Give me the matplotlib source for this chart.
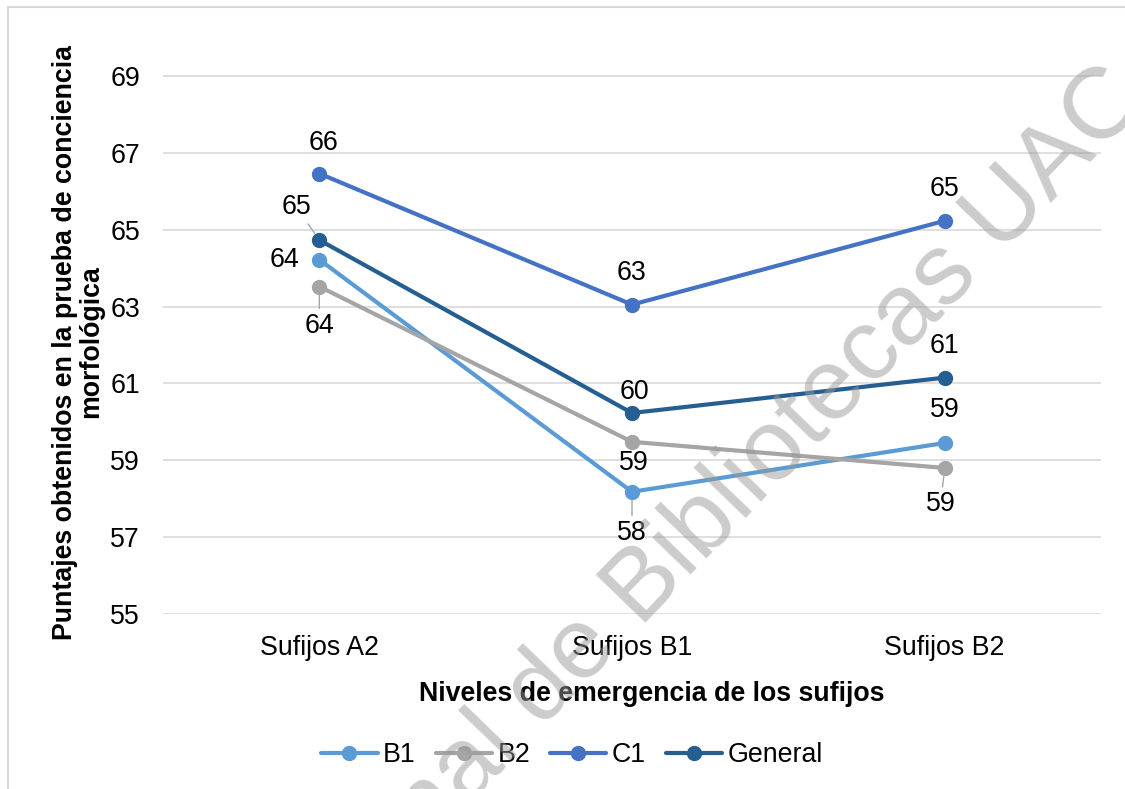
import numpy as np
import matplotlib.pyplot as plt
from matplotlib.patches import Rectangle

plt.rcParams['font.family'] = ['Liberation Sans', 'DejaVu Sans']

categorias = ['Sufijos A2', 'Sufijos B1', 'Sufijos B2']
series = ['B1', 'B2', 'C1', 'General']
valores = {
    'B1': [64.22, 58.18, 59.45],
    'B2': [63.52, 59.48, 58.80],
    'C1': [66.46, 63.05, 65.23],
    'General': [64.73, 60.23, 61.15],
}
colores = {
    'B1': '#5b9bd5',
    'B2': '#a5a5a5',
    'C1': '#4472c4',
    'General': '#255e91',
}
# label offsets in pixels (dx, dy) and whether a leader line is drawn
offsets = {
    'B1': [(-35, 0, False), (0, -41, True), (0, 33, False)],
    'B2': [(0, -39, True), (2, -21, False), (-4, -36, True)],
    'C1': [(4, 31, False), (0, 32, False), (0, 32, False)],
    'General': [(-23, 33, True), (2, 21, False), (0, 32, False)],
}

FS = 19.3
W, H = 1125, 789
fig = plt.figure(figsize=(W / 100, H / 100), dpi=100)
ax = fig.add_axes([163 / W, 1 - 614 / H, (1101 - 163) / W, (614 - 37.5) / H])

x = list(range(len(categorias)))
for s in series:
    ax.plot(x, valores[s], color=colores[s], lw=3, marker='o', ms=10,
            label=s, solid_capstyle='round', zorder=3)
    for i, v in enumerate(valores[s]):
        dx, dy, leader = offsets[s][i]
        kw = {}
        if leader:
            kw['arrowprops'] = dict(arrowstyle='-', color='#a6a6a6', lw=1,
                                    shrinkA=1, shrinkB=6)
        ax.annotate(f'{round(v):d}', (i, v), xytext=(dx * 0.72, dy * 0.72),
                    textcoords='offset points', ha='center', va='center',
                    fontsize=FS, color='black', zorder=4, **kw)

ax.set_xlim(-0.5, 2.5)
ax.set_ylim(55, 70)
ax.set_yticks(range(55, 70, 2))
ax.set_xticks(x)
ax.set_xticklabels(categorias)
ax.tick_params(length=0, labelsize=FS)
ax.tick_params(axis='x', pad=15)
ax.tick_params(axis='y', pad=16.5)
ax.grid(axis='y', color='#d9d9d9', lw=1.2)
ax.set_axisbelow(True)
for sp in ax.spines.values():
    sp.set_visible(False)

fig.text(78 / W, 1 - 342 / H,
         'Puntajes obtenidos en la prueba de conciencia\nmorfológica',
         rotation=90, ha='center', va='center', multialignment='center',
         fontsize=FS, fontweight='bold', linespacing=1.0)
fig.text(652 / W, 1 - 694 / H, 'Niveles de emergencia de los sufijos',
         ha='center', va='center', fontsize=FS, fontweight='bold')

fig.legend(loc='center', bbox_to_anchor=(572 / W, 1 - 755 / H), ncol=4,
           frameon=False, fontsize=FS, handlelength=2.1, columnspacing=0.75,
           handletextpad=0.2, markerscale=1.0)

fig.patches.append(Rectangle((8 / W, -0.1), 1.2, 1.1 - 7 / H,
                             transform=fig.transFigure, fill=False,
                             edgecolor='#d9d9d9', lw=1.5))

# watermark, split at the start of "Bibliotecas"
ang = 46
wfs = 73
bx, by = 640, 628
sp = 0.278 * wfs / 0.72
ca, sa = np.cos(np.radians(ang)), np.sin(np.radians(ang))
wm = dict(rotation=ang, rotation_mode='anchor', va='baseline',
          fontsize=wfs, color='#999999', alpha=0.5, zorder=10)
fig.text(bx / W, 1 - by / H, 'Bibliotecas UAC', ha='left', **wm)
fig.text((bx - sp * ca) / W, 1 - (by + sp * sa) / H,
         'Repositorio Institucional de', ha='right', **wm)

fig.savefig('out.png', dpi=100)
